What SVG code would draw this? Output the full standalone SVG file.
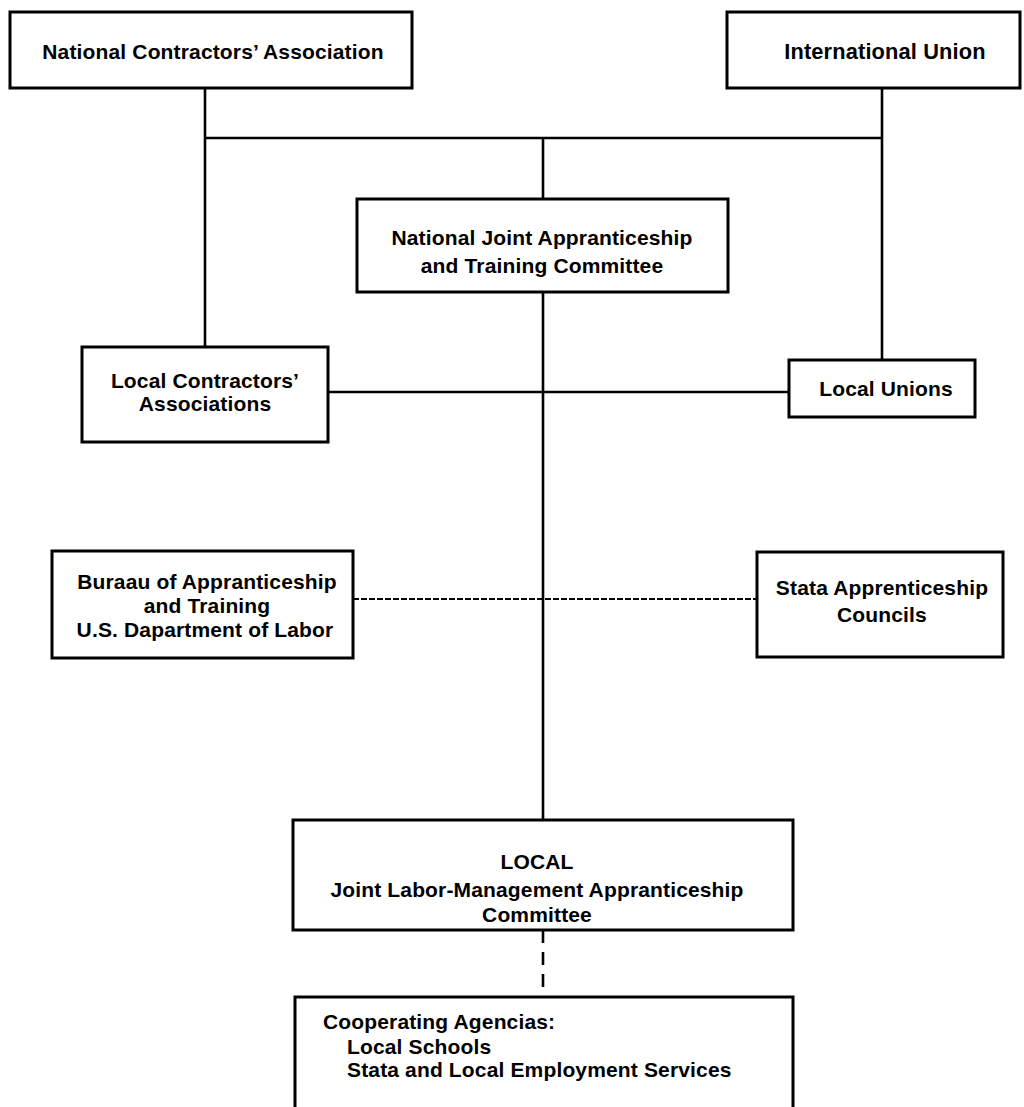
<svg xmlns="http://www.w3.org/2000/svg" width="1024" height="1107" viewBox="0 0 1024 1107">
<style>
.box{fill:#fff;stroke:#000;stroke-width:3}
.ln{fill:none;stroke:#000;stroke-width:2.6}
.dl{fill:none;stroke:#000;stroke-width:2;stroke-dasharray:6 2}
.dv{fill:none;stroke:#000;stroke-width:2.6;stroke-dasharray:13 9}
text{font-family:"Liberation Sans",Arial,sans-serif;font-weight:bold;font-size:21px;letter-spacing:0.15px;fill:#000}
.c{text-anchor:middle}
</style>
<rect width="1024" height="1107" fill="#fff"/>
<g id="connectors">
<path class="ln" d="M205 88 V347"/>
<path class="ln" d="M205 138 H882"/>
<path class="ln" d="M882 88 V360"/>
<path class="ln" d="M543 138 V199"/>
<path class="ln" d="M543 292 V820"/>
<path class="ln" d="M328 392 H789"/>
<path class="dl" d="M353 599 H757"/>
<path class="dv" d="M543 930 V997"/>
</g>
<g id="nca">
<rect class="box" x="10" y="12" width="402" height="76"/>
<text class="c" x="213" y="59">National Contractors’ Association</text>
</g>
<g id="iu">
<rect class="box" x="727" y="12" width="293" height="76"/>
<text class="c" x="885" y="59" style="font-size:21.8px">International Union</text>
</g>
<g id="njatc">
<rect class="box" x="357" y="199" width="371" height="93"/>
<text class="c" x="542" y="245">National Joint Appranticeship</text>
<text class="c" x="542" y="273">and Training Committee</text>
</g>
<g id="lca">
<rect class="box" x="82" y="347" width="246" height="95"/>
<text class="c" x="205" y="388">Local Contractors’</text>
<text class="c" x="205" y="411">Associations</text>
</g>
<g id="lu">
<rect class="box" x="789" y="360" width="186" height="57"/>
<text class="c" x="886" y="396">Local Unions</text>
</g>
<g id="bat">
<rect class="box" x="52" y="551" width="301" height="107"/>
<text class="c" x="207" y="589">Buraau of Appranticeship</text>
<text class="c" x="207" y="613">and Training</text>
<text class="c" x="205" y="637">U.S. Dapartment of Labor</text>
</g>
<g id="sac">
<rect class="box" x="757" y="552" width="246" height="105"/>
<text class="c" x="882" y="595">Stata Apprenticeship</text>
<text class="c" x="882" y="622">Councils</text>
</g>
<g id="local">
<rect class="box" x="293" y="820" width="500" height="110"/>
<text class="c" x="537" y="869">LOCAL</text>
<text class="c" x="537" y="897">Joint Labor-Management Appranticeship</text>
<text class="c" x="537" y="922">Committee</text>
</g>
<g id="coop">
<rect class="box" x="295" y="997" width="498" height="130"/>
<text x="323" y="1029">Cooperating Agencias:</text>
<text x="347" y="1054">Local Schools</text>
<text x="347" y="1077">Stata and Local Employment Services</text>
</g>
</svg>
